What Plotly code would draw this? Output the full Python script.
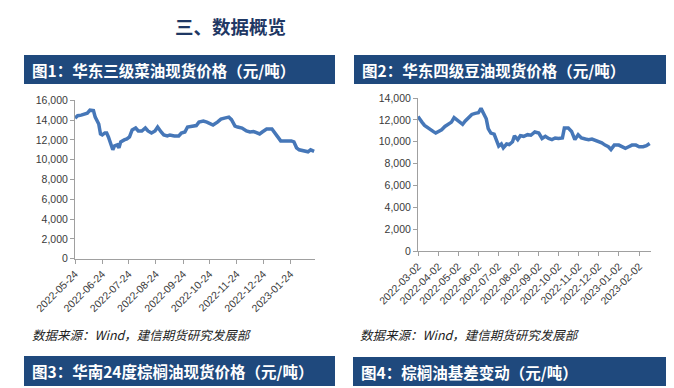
import plotly.graph_objects as go

# ---------------- data ----------------
rapeseed_dates = ["2022-05-24","2022-05-27","2022-05-31","2022-06-03","2022-06-07","2022-06-10","2022-06-14","2022-06-16",
    "2022-06-20","2022-06-22","2022-06-24","2022-06-27","2022-06-29","2022-07-01","2022-07-04","2022-07-06","2022-07-08",
    "2022-07-11","2022-07-13","2022-07-15","2022-07-19","2022-07-22","2022-07-25","2022-07-28","2022-08-01","2022-08-04",
    "2022-08-08","2022-08-12","2022-08-15","2022-08-19","2022-08-23","2022-08-26","2022-08-30","2022-09-02","2022-09-06",
    "2022-09-09","2022-09-14","2022-09-19","2022-09-22","2022-09-26","2022-09-29","2022-10-05","2022-10-09","2022-10-12",
    "2022-10-17","2022-10-21","2022-10-25","2022-10-28","2022-11-02","2022-11-06","2022-11-10","2022-11-15","2022-11-18",
    "2022-11-22","2022-11-25","2022-11-30","2022-12-05","2022-12-09","2022-12-13","2022-12-16","2022-12-20","2022-12-23",
    "2022-12-28","2023-01-03","2023-01-06","2023-01-10","2023-01-13","2023-01-18","2023-01-25","2023-01-28","2023-01-31",
    "2023-02-03","2023-02-08","2023-02-13","2023-02-16","2023-02-20"]
rapeseed_prices = [14200,14450,14500,14600,14700,15000,14950,14300,13600,12600,12500,12700,12700,12300,11600,11000,11400,
    11500,11200,11800,12000,12100,12300,13000,13200,12900,12900,13200,12900,12700,12900,13300,12800,12500,12400,
    12500,12400,12400,12700,12800,13300,13400,13450,13800,13900,13800,13600,13500,13800,14100,14200,14300,14050,
    13400,13300,13200,12900,12800,12850,12700,12600,12800,13100,13100,12700,12300,11900,11900,11900,11800,11200,
    11000,10900,10800,11000,10850]

soy_dates = ["2022-03-02","2022-03-05","2022-03-08","2022-03-12","2022-03-16","2022-03-20","2022-03-25","2022-03-29",
    "2022-04-03","2022-04-07","2022-04-12","2022-04-17","2022-04-22","2022-04-26","2022-04-30","2022-05-05","2022-05-09",
    "2022-05-13","2022-05-18","2022-05-23","2022-05-28","2022-06-02","2022-06-06","2022-06-09","2022-06-14","2022-06-17",
    "2022-06-21","2022-06-26","2022-06-30","2022-07-03","2022-07-07","2022-07-10","2022-07-15","2022-07-19","2022-07-24",
    "2022-07-27","2022-08-01","2022-08-05","2022-08-10","2022-08-16","2022-08-21","2022-08-27","2022-09-02","2022-09-07",
    "2022-09-12","2022-09-17","2022-09-22","2022-09-27","2022-10-02","2022-10-08","2022-10-11","2022-10-17","2022-10-22",
    "2022-10-27","2022-11-01","2022-11-06","2022-11-12","2022-11-17","2022-11-22","2022-11-27","2022-12-02","2022-12-07",
    "2022-12-12","2022-12-17","2022-12-21","2022-12-26","2023-01-02","2023-01-07","2023-01-12","2023-01-17","2023-01-22",
    "2023-01-28","2023-02-02","2023-02-08","2023-02-13","2023-02-18"]
soy_prices = [12300,12100,11800,11500,11300,11200,10950,10800,10950,11100,11400,11600,11800,12200,12000,11700,11600,
    11900,12200,12500,12600,12650,13050,12650,12100,11200,10800,10700,10100,9600,9800,9450,9800,9750,10000,
    10550,10200,10550,10500,10650,10600,10900,10800,10300,10500,10300,10200,10350,10300,10350,11250,11250,10950,
    10200,10650,10350,10250,10200,10250,10150,10050,9900,9700,9550,9300,9700,9700,9550,9400,9550,9700,
    9700,9550,9550,9650,9850]

rapeseed_ticks = ["2022-05-24","2022-06-24","2022-07-24","2022-08-24","2022-09-24","2022-10-24","2022-11-24","2022-12-24","2023-01-24"]
soy_ticks = ["2022-03-02","2022-04-02","2022-05-02","2022-06-02","2022-07-02","2022-08-02","2022-09-02","2022-10-02",
             "2022-11-02","2022-12-02","2023-01-02","2023-02-02"]

page_title = "三、数据概览"
chart_titles = ["图1：华东三级菜油现货价格（元/吨）", "图2：华东四级豆油现货价格（元/吨）",
                "图3：华南24度棕榈油现货价格（元/吨）", "图4：棕榈油基差变动（元/吨）"]
source_text = "数据来源：Wind，建信期货研究发展部"

# ---------------- figure ----------------
W, H = 674, 388
LINE = "#4677b8"
NAVY = "#1f497d"
AX = "#a0a0a0"
CJK = "Noto Sans CJK SC"
LAT = "Liberation Sans, Arial"

def px(x):
    return x / W

def py(y):
    return 1 - y / H

fig = go.Figure()
fig.add_trace(go.Scatter(x=rapeseed_dates, y=rapeseed_prices, mode="lines",
                         line=dict(color=LINE, width=3.5), xaxis="x", yaxis="y", showlegend=False))
fig.add_trace(go.Scatter(x=soy_dates, y=soy_prices, mode="lines",
                         line=dict(color=LINE, width=3.5), xaxis="x2", yaxis="y2", showlegend=False))

common_x = dict(type="date", showgrid=False, zeroline=False, showline=True, linecolor=AX, linewidth=1,
                ticks="outside", ticklen=4, tickcolor=AX, tickangle=-45, tickformat="%Y-%m-%d",
                automargin=False, tickfont=dict(family=LAT, size=10.5, color="#3a3a3a"))
common_y = dict(showgrid=False, zeroline=False, showline=True, linecolor=AX, linewidth=1,
                ticks="outside", ticklen=4, tickcolor=AX, tickformat=",d", dtick=2000,
                automargin=False, tickfont=dict(family=LAT, size=10.5, color="#3a3a3a"))

fig.update_layout(
    width=W, height=H, margin=dict(l=0, r=0, t=0, b=0, autoexpand=False),
    paper_bgcolor="white", plot_bgcolor="white",
    xaxis=dict(common_x, domain=[px(67), px(307)], range=["2022-05-24", "2023-02-21"],
               tickvals=rapeseed_ticks, anchor="y"),
    yaxis=dict(common_y, domain=[py(250.7), py(92.3)], range=[0, 16000], anchor="x"),
    xaxis2=dict(common_x, domain=[px(410), px(643)], range=["2022-03-02", "2023-02-20"],
                tickvals=soy_ticks, anchor="y2"),
    yaxis2=dict(common_y, domain=[py(243.3), py(90)], range=[0, 14000], anchor="x2"),
)

# header bars
bars = [(16, 47, 327, 76), (346, 47, 665, 76), (16, 348, 327, 378), (345, 349, 665, 378)]
for (x0, y0, x1, y1), t in zip(bars, chart_titles):
    fig.add_shape(type="rect", xref="paper", yref="paper", x0=px(x0), x1=px(x1), y0=py(y1), y1=py(y0),
                  fillcolor=NAVY, line=dict(width=0), layer="below")
    fig.add_annotation(text="<b>" + t + "</b>", xref="paper", yref="paper", x=px(x0 + 6), y=py((y0 + y1) / 2),
                       xanchor="left", yanchor="middle", showarrow=False,
                       font=dict(family=CJK, size=15.5, color="white"))

fig.add_annotation(text="<b>" + page_title + "</b>", xref="paper", yref="paper", x=px(222.5), y=py(18),
                   xanchor="center", yanchor="middle", showarrow=False,
                   font=dict(family=CJK, size=18.5, color="#1f3864"))

for x0 in (22, 350):
    fig.add_annotation(text="<i>" + source_text + "</i>", xref="paper", yref="paper", x=px(x0), y=py(326),
                       xanchor="left", yanchor="middle", showarrow=False,
                       font=dict(family=CJK, size=12.5, color="#222222"))

fig.write_html("out.html")
